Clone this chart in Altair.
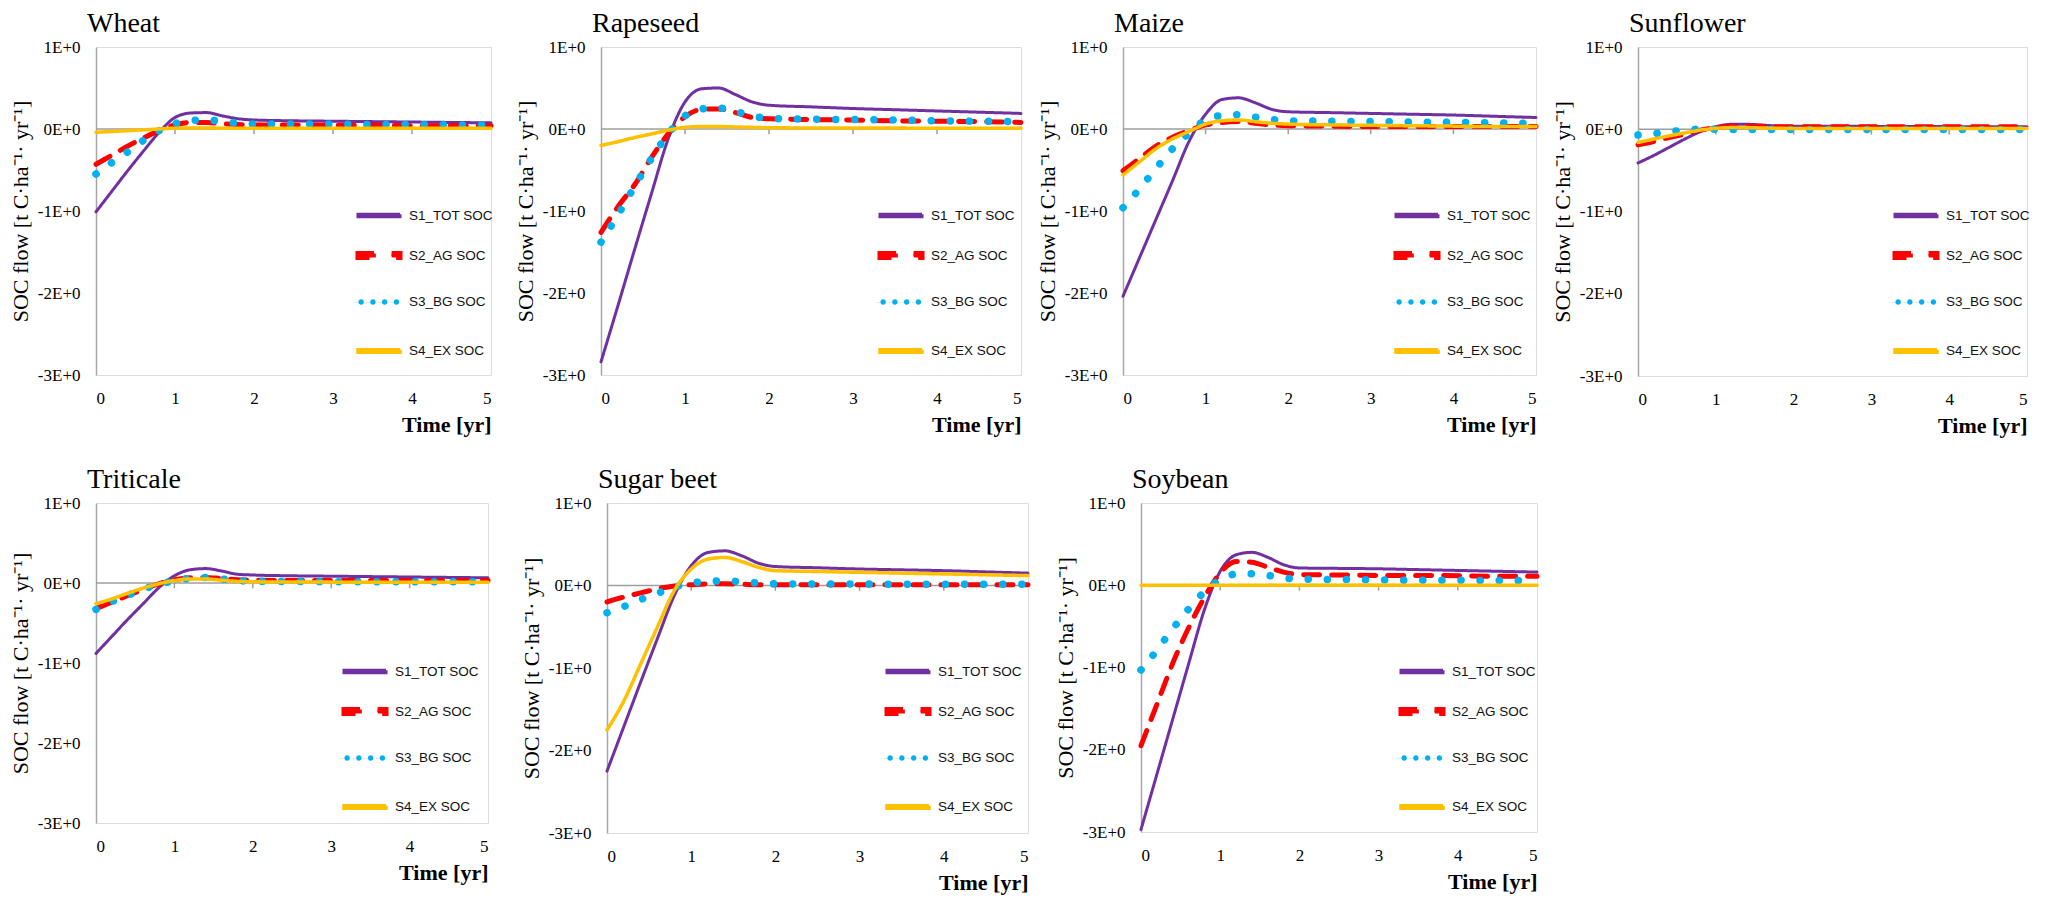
import altair as alt
import pandas as pd

# ---------------- data ----------------
crops = ["Wheat", "Rapeseed", "Maize", "Sunflower", "Triticale", "Sugar beet", "Soybean"]
series = ["S1_TOT SOC", "S2_AG SOC", "S3_BG SOC", "S4_EX SOC"]
time_yr = [0, 0.2, 0.4, 0.6, 0.8, 1.0, 1.2, 1.4, 1.6, 1.8, 2.0, 2.5, 3.0, 3.5, 4.0, 4.5, 5.0]

x_ticks = [0, 1, 2, 3, 4, 5]
x_minor_ticks = [1, 2, 3, 4]
y_ticks = [-3, -2, -1, 0, 1]
y_tick_labels = ["-3E+0", "-2E+0", "-1E+0", "0E+0", "1E+0"]

wheat_s1 = [-1.01, -0.76, -0.51, -0.27, -0.04, 0.14, 0.195, 0.20, 0.16, 0.125, 0.11, 0.10, 0.095, 0.09, 0.085, 0.08, 0.075]
wheat_s2 = [-0.43, -0.32, -0.21, -0.11, -0.02, 0.05, 0.08, 0.08, 0.065, 0.055, 0.05, 0.05, 0.045, 0.045, 0.04, 0.04, 0.04]
wheat_s3 = [-0.55, -0.41, -0.28, -0.14, -0.02, 0.065, 0.105, 0.11, 0.09, 0.07, 0.06, 0.06, 0.06, 0.055, 0.055, 0.05, 0.05]
wheat_s4 = [-0.04, -0.03, -0.02, -0.01, 0.0, 0.01, 0.012, 0.012, 0.01, 0.01, 0.008, 0.008, 0.008, 0.008, 0.008, 0.008, 0.008]

rapeseed_s1 = [-2.84, -2.16, -1.47, -0.79, -0.12, 0.33, 0.49, 0.50, 0.42, 0.33, 0.29, 0.27, 0.25, 0.235, 0.22, 0.205, 0.19]
rapeseed_s2 = [-1.26, -0.95, -0.68, -0.35, -0.06, 0.15, 0.24, 0.245, 0.20, 0.14, 0.125, 0.115, 0.11, 0.10, 0.095, 0.09, 0.08]
rapeseed_s3 = [-1.38, -1.05, -0.70, -0.36, -0.06, 0.16, 0.245, 0.255, 0.215, 0.16, 0.13, 0.12, 0.115, 0.11, 0.10, 0.095, 0.09]
rapeseed_s4 = [-0.20, -0.155, -0.105, -0.06, -0.015, 0.02, 0.03, 0.03, 0.025, 0.02, 0.015, 0.013, 0.012, 0.011, 0.01, 0.01, 0.01]

maize_s1 = [-2.04, -1.57, -1.10, -0.63, -0.15, 0.18, 0.36, 0.38, 0.32, 0.24, 0.21, 0.20, 0.19, 0.18, 0.17, 0.155, 0.14]
maize_s2 = [-0.51, -0.36, -0.21, -0.10, -0.02, 0.05, 0.08, 0.09, 0.07, 0.05, 0.04, 0.035, 0.03, 0.03, 0.03, 0.03, 0.03]
maize_s3 = [-0.96, -0.73, -0.48, -0.24, -0.05, 0.11, 0.165, 0.175, 0.145, 0.115, 0.10, 0.095, 0.09, 0.085, 0.08, 0.075, 0.07]
maize_s4 = [-0.56, -0.40, -0.24, -0.12, -0.03, 0.06, 0.10, 0.11, 0.09, 0.07, 0.06, 0.05, 0.045, 0.04, 0.035, 0.03, 0.03]

sunflower_s1 = [-0.41, -0.32, -0.22, -0.12, -0.03, 0.03, 0.06, 0.06, 0.05, 0.04, 0.035, 0.035, 0.035, 0.033, 0.032, 0.031, 0.03]
sunflower_s2 = [-0.19, -0.15, -0.10, -0.06, -0.01, 0.02, 0.035, 0.04, 0.035, 0.03, 0.03, 0.03, 0.03, 0.03, 0.03, 0.03, 0.03]
sunflower_s3 = [-0.07, -0.055, -0.03, -0.01, 0.0, 0.0, -0.003, -0.003, -0.004, -0.004, -0.004, -0.004, -0.004, -0.004, -0.004, -0.004, -0.004]
sunflower_s4 = [-0.16, -0.12, -0.08, -0.045, -0.01, 0.01, 0.02, 0.02, 0.015, 0.012, 0.01, 0.01, 0.01, 0.01, 0.01, 0.01, 0.01]

triticale_s1 = [-0.88, -0.67, -0.46, -0.26, -0.06, 0.09, 0.165, 0.18, 0.15, 0.11, 0.10, 0.09, 0.085, 0.08, 0.075, 0.07, 0.065]
triticale_s2 = [-0.32, -0.24, -0.16, -0.08, -0.01, 0.04, 0.065, 0.07, 0.055, 0.04, 0.035, 0.03, 0.03, 0.03, 0.03, 0.03, 0.03]
triticale_s3 = [-0.33, -0.235, -0.155, -0.08, -0.015, 0.025, 0.06, 0.07, 0.05, 0.03, 0.022, 0.018, 0.017, 0.016, 0.016, 0.015, 0.015]
triticale_s4 = [-0.26, -0.20, -0.13, -0.065, -0.01, 0.03, 0.05, 0.05, 0.035, 0.02, 0.015, 0.012, 0.011, 0.01, 0.01, 0.01, 0.01]

sugarbeet_s1 = [-2.25, -1.71, -1.17, -0.64, -0.12, 0.24, 0.40, 0.42, 0.36, 0.27, 0.23, 0.215, 0.20, 0.19, 0.18, 0.165, 0.15]
sugarbeet_s2 = [-0.20, -0.14, -0.09, -0.04, -0.005, 0.01, 0.02, 0.02, 0.015, 0.01, 0.01, 0.009, 0.009, 0.008, 0.008, 0.008, 0.008]
sugarbeet_s3 = [-0.33, -0.255, -0.17, -0.095, -0.02, 0.03, 0.05, 0.055, 0.045, 0.03, 0.02, 0.018, 0.017, 0.016, 0.016, 0.015, 0.015]
sugarbeet_s4 = [-1.75, -1.40, -0.95, -0.50, -0.06, 0.20, 0.32, 0.34, 0.29, 0.22, 0.18, 0.17, 0.16, 0.15, 0.14, 0.13, 0.12]

soybean_s1 = [-2.97, -2.30, -1.63, -0.96, -0.30, 0.17, 0.37, 0.40, 0.34, 0.25, 0.21, 0.205, 0.20, 0.19, 0.18, 0.17, 0.16]
soybean_s2 = [-1.95, -1.45, -0.95, -0.52, -0.15, 0.15, 0.29, 0.28, 0.22, 0.16, 0.13, 0.125, 0.12, 0.12, 0.115, 0.11, 0.11]
soybean_s3 = [-1.03, -0.79, -0.53, -0.29, -0.08, 0.07, 0.135, 0.14, 0.12, 0.09, 0.075, 0.07, 0.065, 0.06, 0.06, 0.058, 0.055]
soybean_s4 = [0.0, 0.0, 0.0, 0.0, 0.0, 0.0, 0.0, 0.0, 0.0, 0.0, 0.0, 0.0, 0.0, 0.0, 0.0, 0.0, 0.0]

crop_values = {
    "Wheat": [wheat_s1, wheat_s2, wheat_s3, wheat_s4],
    "Rapeseed": [rapeseed_s1, rapeseed_s2, rapeseed_s3, rapeseed_s4],
    "Maize": [maize_s1, maize_s2, maize_s3, maize_s4],
    "Sunflower": [sunflower_s1, sunflower_s2, sunflower_s3, sunflower_s4],
    "Triticale": [triticale_s1, triticale_s2, triticale_s3, triticale_s4],
    "Sugar beet": [sugarbeet_s1, sugarbeet_s2, sugarbeet_s3, sugarbeet_s4],
    "Soybean": [soybean_s1, soybean_s2, soybean_s3, soybean_s4],
}

# ---------------- styles ----------------
colors = ["#7030A0", "#FF0000", "#00B0F0", "#FFC000"]
dashes = [[1, 0], [16, 12], [0.1, 19], [1, 0]]
widths = [3, 5, 7.5, 3.5]

# legend symbols as unit-square paths (the leading moves reserve the entry height)
BOX = "M-1,-0.5M-1,0.5"


def _dot(cx, r=0.13):
    return f"M{cx - r:.3f},0a{r},{r} 0 1,0 {2 * r:.3f},0a{r},{r} 0 1,0 {-2 * r:.3f},0Z"


legend_shapes = [
    BOX + "M-1,-0.055H1V0.055H-1Z",
    BOX + "M-1,-0.09H-0.15V0.09H-1ZM0.6,-0.09H1V0.09H0.6Z",
    BOX + _dot(-0.85) + _dot(-0.29) + _dot(0.27) + _dot(0.83),
    BOX + "M-1,-0.065H1V0.065H-1Z",
]

SERIF = "Liberation Serif"
SANS = "Liberation Sans"

panel_w = {"Wheat": 395, "Rapeseed": 420, "Maize": 413, "Sunflower": 389,
           "Triticale": 392, "Sugar beet": 421, "Soybean": 396}
panel_h = {"Wheat": 328, "Rapeseed": 328, "Maize": 328, "Sunflower": 329,
           "Triticale": 320, "Sugar beet": 330, "Soybean": 329}
legend_from_right = {"Wheat": 137, "Rapeseed": 145, "Maize": 144, "Sunflower": 136,
                     "Triticale": 148, "Sugar beet": 145, "Soybean": 140}

label_expr = " : ".join(
    f"datum.value == {v} ? '{l}'" for v, l in zip(y_ticks, y_tick_labels)
) + " : ''"

y_title = "SOC flow [t C·ha⁻¹· yr⁻¹]"


def panel(crop):
    rows = []
    for s, vals in zip(series, crop_values[crop]):
        for t, v in zip(time_yr, vals):
            rows.append({"Time": t, "SOC": v, "series": s})
    df = pd.DataFrame(rows)
    w, h = panel_w[crop], panel_h[crop]

    xscale = alt.Scale(domain=[0, 5], nice=False, zero=False)
    yscale = alt.Scale(domain=[-3, 1], nice=False, zero=False)

    leg = alt.Legend(
        orient="none", legendX=w - legend_from_right[crop], legendY=146,
        title=None, symbolSize=1764, symbolStrokeWidth=0,
        labelFont=SANS, labelFontSize=13.5, labelColor="#111111",
        labelOffset=5, rowPadding=0, padding=0,
    )

    # legend-only layer (its data is filtered away, only the legend remains)
    key = alt.Chart(pd.DataFrame({"series": series})).transform_filter("false").mark_point(
        filled=True, size=1764, opacity=1, strokeWidth=0, strokeOpacity=0
    ).encode(
        color=alt.Color("series:N", scale=alt.Scale(domain=series, range=colors), legend=leg),
        shape=alt.Shape("series:N", scale=alt.Scale(domain=series, range=legend_shapes), legend=leg),
    )

    lines = alt.Chart(df).mark_line(
        interpolate="monotone", strokeCap="round", strokeJoin="round"
    ).encode(
        x=alt.X("Time:Q", scale=xscale,
                axis=alt.Axis(values=x_ticks, title="Time [yr]", format="d",
                              domain=False, ticks=False, grid=False,
                              labelFont=SERIF, labelFontSize=17, labelColor="#000000",
                              labelPadding=15, titleFont=SERIF, titleFontSize=22,
                              titleFontWeight="bold", titleColor="#000000",
                              titleAnchor="end", titlePadding=8)),
        y=alt.Y("SOC:Q", scale=yscale,
                axis=alt.Axis(values=y_ticks, labelExpr=label_expr, title=y_title,
                              domain=True, domainColor="#A6A6A6", domainWidth=1.5,
                              ticks=False, grid=False,
                              labelFont=SERIF, labelFontSize=17, labelColor="#000000",
                              labelPadding=16, titleFont=SERIF, titleFontSize=22,
                              titleFontWeight="normal", titleColor="#000000",
                              titlePadding=5)),
        stroke=alt.Stroke("series:N", scale=alt.Scale(domain=series, range=colors), legend=None),
        strokeDash=alt.StrokeDash("series:N", scale=alt.Scale(domain=series, range=dashes), legend=None),
        strokeWidth=alt.StrokeWidth("series:N",
                                    scale=alt.Scale(type="ordinal", domain=series, range=widths),
                                    legend=None),
        order=alt.Order("series:N"),
    )

    zero = alt.Chart(pd.DataFrame({"z": [0]})).mark_rule(
        color="#9E9E9E", strokeWidth=1.5
    ).encode(y=alt.Y("z:Q", scale=yscale))

    ticks = alt.Chart(pd.DataFrame({"t": x_minor_ticks})).mark_rule(
        color="#9E9E9E", strokeWidth=1.5
    ).encode(
        x=alt.X("t:Q", scale=xscale),
        y=alt.YDatum(0),
        y2=alt.Y2Datum(-0.065),
    )

    return alt.layer(key, zero, ticks, lines).properties(
        width=w, height=h,
        title=alt.TitleParams(crop, anchor="start", frame="group", dx=-9, offset=0,
                              fontSize=28, font=SERIF, fontWeight="normal", color="#000000"),
    )


def res(c):
    return c.resolve_scale(
        color="independent", stroke="independent", strokeDash="independent",
        strokeWidth="independent", shape="independent", x="independent", y="independent",
    ).resolve_legend(
        color="independent", shape="independent"
    ).resolve_axis(x="independent", y="independent")


p = {c: panel(c) for c in crops}

row1_inner = res(alt.hconcat(p["Rapeseed"], p["Maize"], p["Sunflower"], spacing=102, bounds="flush"))
row1 = res(alt.hconcat(p["Wheat"], row1_inner, spacing=110, bounds="flush"))
row2_inner = res(alt.hconcat(p["Sugar beet"], p["Soybean"], spacing=113, bounds="flush"))
row2 = res(alt.hconcat(p["Triticale"], row2_inner, spacing=119, bounds="flush"))

chart = res(alt.vconcat(row1, row2, spacing=28, bounds="full")).properties(
    padding={"left": 0, "top": 1, "right": 5, "bottom": 5}
).configure_view(
    stroke="#595959", strokeWidth=1.3
).configure(background="white")

chart.save("out.html", embed_options={"renderer": "svg", "actions": False})
